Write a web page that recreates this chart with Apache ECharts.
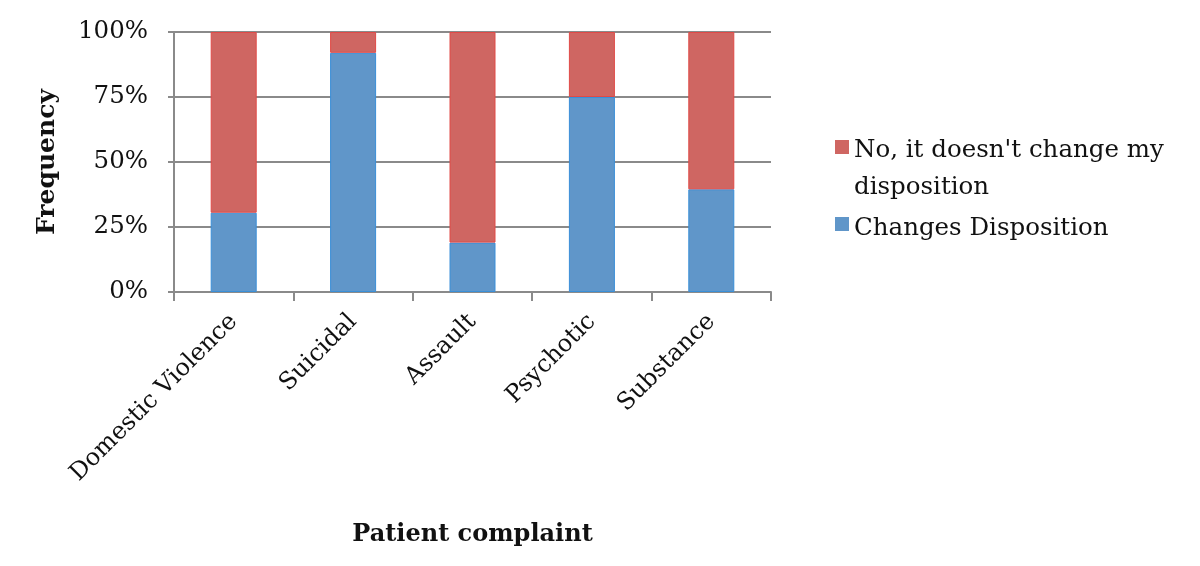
<!DOCTYPE html>
<html>
<head>
<meta charset="utf-8">
<script src="https://cdn.jsdelivr.net/npm/echarts@6/dist/echarts.min.js"></script>
<style>html,body{margin:0;padding:0;background:#fff}#c{width:1200px;height:566px}</style>
</head>
<body>
<div id="c"></div>
<script>
var categories = ["Domestic Violence", "Suicidal", "Assault", "Psychotic", "Substance"];
var changesDisposition = [30.5, 92, 19, 75, 39.5];
var noChange = [69.5, 8, 81, 25, 60.5];
var yTicks = [0, 25, 50, 75, 100];
var seriesNames = ["Changes Disposition", "No, it doesn't change my disposition"];

var FONT = "'DejaVu Serif', 'Liberation Serif', serif";
var legendText = { fontFamily: FONT, fontSize: 24.5, color: '#111', lineHeight: 37, padding: [0,0,0,0] };
var chart = echarts.init(document.getElementById('c'));
chart.setOption({
  animation: false,
  grid: { left: 174, right: 429, top: 32, bottom: 274, containLabel: false },
  legend: [
    {
      left: 830, top: 127, itemWidth: 14, itemHeight: 74, symbolKeepAspect: true,
      icon: 'path://M0,8L14,8L14,22L0,22Z M0,0L0.01,0L0.01,0.01Z M0,74L0.01,74L0.01,74.01Z',
      itemStyle: { borderWidth: 0 },
      data: [seriesNames[1]],
      formatter: function () { return "No, it doesn't change my\ndisposition"; },
      textStyle: legendText
    },
    {
      left: 830, top: 205, itemWidth: 14, itemHeight: 37, symbolKeepAspect: true,
      icon: 'path://M0,7L14,7L14,21L0,21Z M0,0L0.01,0L0.01,0.01Z M0,37L0.01,37L0.01,37.01Z',
      itemStyle: { borderWidth: 0 },
      data: [seriesNames[0]],
      textStyle: legendText
    }
  ],
  xAxis: {
    type: 'category', data: categories,
    name: 'Patient complaint', nameLocation: 'middle', nameGap: 231,
    nameTextStyle: { fontFamily: FONT, fontSize: 24, fontWeight: 'bold', color: '#111' },
    axisLine: { lineStyle: { color: '#8a8a8a', width: 2 } },
    axisTick: { show: true, length: 9, lineStyle: { color: '#8a8a8a', width: 2 } },
    axisLabel: { rotate: 45, fontFamily: FONT, fontSize: 24, color: '#111', margin: 26, interval: 0 }
  },
  yAxis: {
    type: 'value', min: 0, max: 100, interval: 25,
    name: 'Frequency', nameLocation: 'middle', nameGap: 114, nameRotate: 90,
    nameTextStyle: { fontFamily: FONT, fontSize: 25, fontWeight: 'bold', color: '#111' },
    axisLine: { show: true, lineStyle: { color: '#8a8a8a', width: 2 } },
    axisTick: { show: true, length: 6, lineStyle: { color: '#8a8a8a', width: 2 } },
    splitLine: { lineStyle: { color: '#8a8a8a', width: 2 } },
    axisLabel: { fontFamily: FONT, fontSize: 24.5, color: '#111', margin: 26,
      formatter: function (v) { return yTicks.indexOf(v) >= 0 ? v + '%' : ''; } }
  },
  series: [
    { name: seriesNames[0], type: 'bar', stack: 's', data: changesDisposition, barWidth: 46,
      itemStyle: { color: '#6096C9', borderColor: '#3a8fd8', borderWidth: 1 } },
    { name: seriesNames[1], type: 'bar', stack: 's', data: noChange, barWidth: 46,
      itemStyle: { color: '#CF6662', borderColor: '#e04a47', borderWidth: 1 } }
  ]
});
</script>
</body>
</html>
